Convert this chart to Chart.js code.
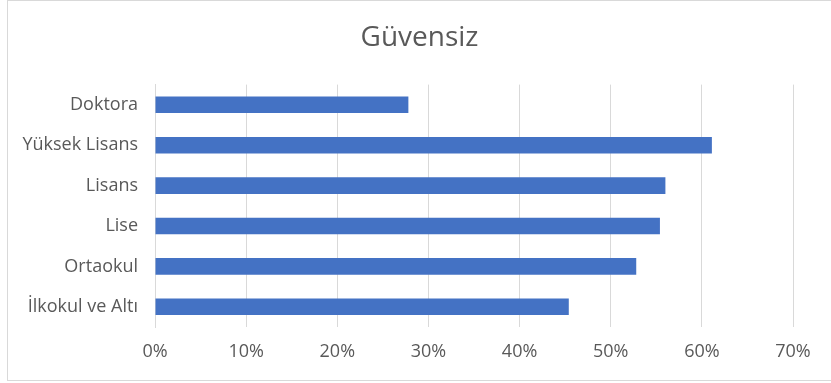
<!DOCTYPE html>
<html>
<head>
<meta charset="utf-8">
<script src="https://cdn.jsdelivr.net/npm/chart.js@4/dist/chart.umd.min.js"></script>
<style>
html,body{margin:0;padding:0;background:#fff;}
#wrap{position:relative;width:831px;height:383px;overflow:hidden;}
#frame{position:absolute;left:7px;top:0px;width:840px;height:381px;border:1px solid #d9d9d9;box-sizing:border-box;}
canvas{position:absolute;left:0;top:0;}
</style>
</head>
<body>
<div id="wrap">
<div id="frame"></div>
<canvas id="c" width="831" height="383"></canvas>
</div>
<script>
const titleText = "Güvensiz";
const categories = ["Doktora", "Yüksek Lisans", "Lisans", "Lise", "Ortaokul", "İlkokul ve Altı"];
const values = [0.278, 0.611, 0.560, 0.554, 0.528, 0.454];
const xTicks = [0, 0.1, 0.2, 0.3, 0.4, 0.5, 0.6, 0.7];

const fontFam = "'Open Sans', 'Noto Sans', sans-serif";
new Chart(document.getElementById('c'), {
  type: 'bar',
  data: {
    labels: categories,
    datasets: [{
      data: values,
      backgroundColor: '#4472C4',
      borderWidth: 0,
      categoryPercentage: 1.0,
      barPercentage: 0.41
    }]
  },
  options: {
    indexAxis: 'y',
    responsive: false,
    animation: false,
    layout: { padding: { left: 8, right: 0, top: 0, bottom: 0 } },
    plugins: {
      legend: { display: false },
      tooltip: { enabled: false },
      title: {
        display: true,
        text: titleText,
        color: '#595959',
        font: { family: fontFam, size: 28, weight: 'normal' },
        padding: { top: 21, bottom: 30 }
      }
    },
    scales: {
      x: {
        min: xTicks[0],
        max: xTicks[xTicks.length - 1],
        afterBuildTicks: (axis) => { axis.ticks = xTicks.map(v => ({ value: v })); },
        afterFit: (axis) => { axis.height = 56; },
        grid: { color: '#d9d9d9', drawTicks: false },
        border: { display: false },
        ticks: {
          padding: 14,
          color: '#595959',
          font: { family: fontFam, size: 18 },
          callback: (v) => Math.round(v * 100) + '%'
        }
      },
      y: {
        afterFit: (axis) => { axis.width = 147; },
        grid: { display: false },
        border: { display: true, color: '#d9d9d9' },
        ticks: {
          padding: 9,
          color: '#595959',
          font: { family: fontFam, size: 18 }
        }
      },
      yRightSpace: {
        type: 'category',
        position: 'right',
        labels: categories,
        afterFit: (axis) => { axis.width = 38; },
        grid: { display: false },
        border: { display: false },
        ticks: { display: false }
      }
    }
  }
});
</script>
</body>
</html>
